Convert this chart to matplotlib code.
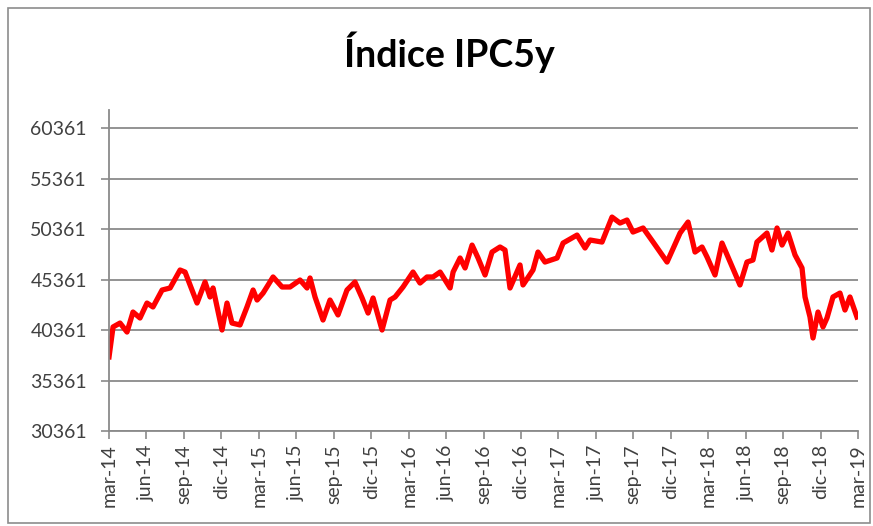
import numpy as np
import matplotlib.pyplot as plt
from matplotlib.patches import Rectangle

plt.rcParams["font.family"] = ["Lato", "DejaVu Sans"]

# months since mar-14 and index level
MONTHS = [
    0.0, 0.32, 0.88, 1.44, 1.92, 2.48, 3.04, 3.52, 4.25, 4.89,
    5.69, 6.09, 7.05, 7.69, 8.09, 8.33, 9.05, 9.45, 9.85, 10.49,
    11.05, 11.54, 11.86, 12.34, 13.14, 13.86, 14.50, 15.30, 15.86, 16.10,
    16.50, 17.14, 17.70, 18.34, 19.06, 19.70, 20.27, 20.75, 21.15, 21.87,
    22.51, 22.91, 23.55, 24.35, 24.91, 25.47, 25.95, 26.52, 27.32, 27.56,
    28.12, 28.52, 29.08, 29.56, 30.12, 30.68, 31.32, 31.72, 32.12, 32.92,
    33.16, 33.96, 34.36, 34.92, 35.89, 36.37, 37.49, 38.13, 38.53, 39.49,
    40.29, 40.93, 41.49, 41.97, 42.78, 43.58, 44.70, 45.74, 46.38, 46.94,
    47.50, 47.90, 48.54, 49.10, 49.58, 50.54, 51.10, 51.58, 51.90, 52.70,
    53.10, 53.51, 53.91, 54.39, 54.95, 55.51, 55.75, 56.15, 56.39, 56.79,
    57.19, 57.51, 57.99, 58.55, 58.95, 59.35, 59.91,
]
IPC5Y = [
    37700, 40660, 41050, 40160, 42140, 41550, 43030, 42640, 44320, 44520,
    46300, 46100, 43030, 45110, 43630, 44520, 40360, 43030, 41050, 40860,
    42640, 44320, 43330, 44020, 45610, 44620, 44620, 45310, 44520, 45510,
    43630, 41350, 43330, 41850, 44320, 45110, 43530, 42040, 43530, 40360,
    43330, 43630, 44620, 46100, 45010, 45610, 45610, 46100, 44520, 46100,
    47490, 46500, 48770, 47490, 45810, 48080, 48580, 48280, 44520, 46800,
    44820, 46300, 48080, 47090, 47490, 48970, 49760, 48480, 49270, 49070,
    51540, 50950, 51250, 50060, 50460, 49070, 47090, 49960, 51050, 48080,
    48580, 47590, 45810, 48970, 47590, 44820, 47090, 47290, 49070, 49960,
    48280, 50460, 48770, 49960, 47790, 46500, 43630, 41650, 39570, 42140,
    40660, 41550, 43630, 44020, 42340, 43630, 41650,
]

Y_TICKS = [30361, 35361, 40361, 45361, 50361, 55361, 60361]
X_LABELS = [
    "mar-14", "jun-14", "sep-14", "dic-14", "mar-15", "jun-15", "sep-15",
    "dic-15", "mar-16", "jun-16", "sep-16", "dic-16", "mar-17", "jun-17",
    "sep-17", "dic-17", "mar-18", "jun-18", "sep-18", "dic-18", "mar-19",
]

fig = plt.figure(figsize=(8.73, 5.26), dpi=100)
fig.patches.append(Rectangle((0.009, 0.005), 0.988, 0.98, transform=fig.transFigure,
                             fill=False, edgecolor="#8c8c8c", linewidth=1.2))

ax = fig.add_axes([0.1249, 0.1806, 0.858, 0.6104])
ax.plot(MONTHS, IPC5Y, color="#ff0000", linewidth=3.8, solid_joinstyle="round")

ax.set_xlim(0, 60)
ax.set_ylim(30361, 62150)
ax.set_yticks(Y_TICKS)
ax.set_yticklabels([str(v) for v in Y_TICKS])
ax.set_xticks(np.arange(0, 61, 3))
ax.set_xticklabels(X_LABELS, rotation=90)

ax.grid(axis="y", color="#8a8a8a", linewidth=1.3)
ax.set_axisbelow(True)
for side in ["top", "right"]:
    ax.spines[side].set_visible(False)
for side in ["left", "bottom"]:
    ax.spines[side].set_color("#8a8a8a")
    ax.spines[side].set_linewidth(1.3)

ax.tick_params(axis="both", colors="#8a8a8a", labelcolor="#404040",
               labelsize=14, length=6, width=1.2)
ax.tick_params(axis="y", pad=10)

fig.text(0.515, 0.9, "Índice IPC5y", ha="center", va="center",
         fontsize=27, fontweight="bold", color="#000000")

plt.savefig("out.png", dpi=100)
plt.close()
